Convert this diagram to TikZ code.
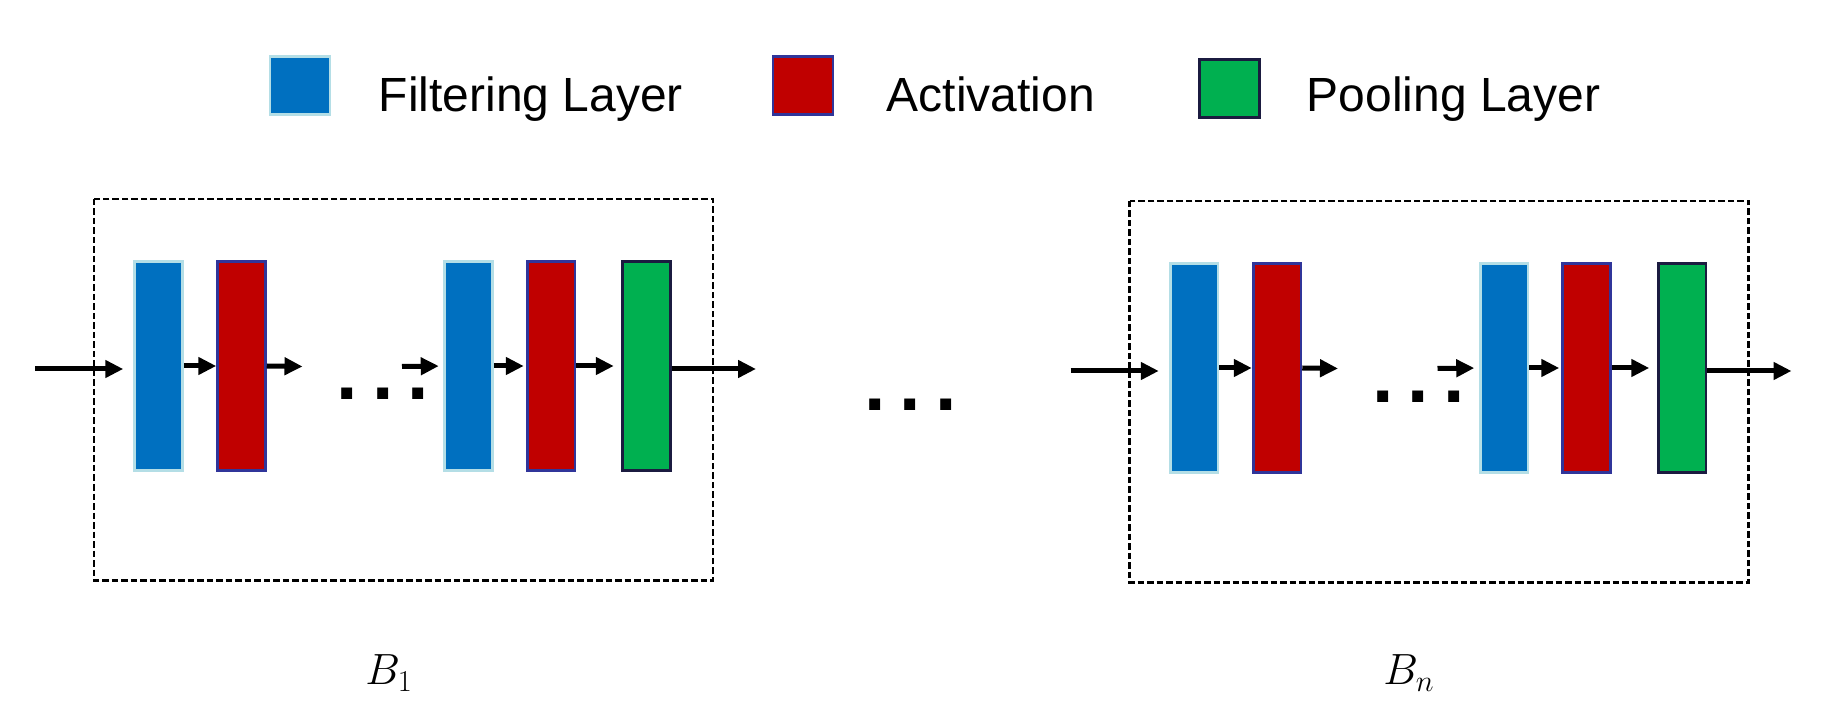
\documentclass[tikz,border=0pt]{standalone}
\usepackage{fontspec}
\setmainfont{Liberation Sans}
\usetikzlibrary{arrows.meta}

\definecolor{filtblue}{HTML}{0070C0}
\definecolor{filtedge}{HTML}{B4DEE6}
\definecolor{actred}{HTML}{C00000}
\definecolor{actedge}{HTML}{30359A}
\definecolor{poolgreen}{HTML}{00B050}
\definecolor{pooledge}{HTML}{1B1B40}

\tikzset{
    layer/.style={rectangle, inner sep=0pt, line width=0.055cm, minimum width=0.955cm, minimum height=4.18cm},
    filtbar/.style={layer, fill=filtblue, draw=filtedge},
    actbar/.style={layer, fill=actred, draw=actedge},
    poolbar/.style={layer, fill=poolgreen, draw=pooledge},
    legsq/.style={rectangle, inner sep=0pt, line width=0.055cm, minimum width=1.2cm, minimum height=1.16cm},
    legtext/.style={anchor=base west, inner sep=0pt, font=\fontsize{27.3}{33}\selectfont},
    flow/.style={-{Triangle[length=0.36cm,width=0.34cm]}, line width=0.1cm},
    blockbox/.style={draw, line width=0.045cm, dash pattern=on 0.13cm off 0.06cm},
    dotrow/.style={anchor=base, inner sep=0pt, font=\fontsize{43.8}{50}\selectfont\bfseries},
    blabel/.style={anchor=base, inner sep=0pt, font=\fontsize{26}{30}\selectfont},
}
\newcommand{\bigdots}{.\hspace{0.282cm}.\hspace{0.282cm}.}

\begin{document}
\begin{tikzpicture}
        \useasboundingbox (0,0) rectangle (36.62,-14.56);

        % legend
        \node[legsq, fill=filtblue, draw=filtedge] at (6.0,-1.71) (legf) {};
        \node[legtext] at (7.57,-2.23) (legftext) {Filtering Layer};
        \node[legsq, fill=actred, draw=actedge] at (16.06,-1.71) (lega) {};
        \node[legtext] at (17.73,-2.23) (legatext) {Activation};
        \node[legsq, fill=poolgreen, draw=pooledge] at (24.59,-1.77) (legp) {};
        \node[legtext] at (26.13,-2.23) (legptext) {Pooling Layer};

        % first block
        \draw[blockbox] (1.88,-3.98) rectangle (14.26,-11.61);
        \node[filtbar] at (3.17,-7.32) (fa) {};
        \node[actbar] at (4.83,-7.32) (aa) {};
        \node[filtbar] at (9.37,-7.32) (fb) {};
        \node[actbar] at (11.02,-7.32) (ab) {};
        \node[poolbar] at (12.93,-7.32) (pa) {};
        \coordinate (ina) at (0.70,-7.38);
        \coordinate (gapa) at (6.05,-7.33);
        \coordinate (gapb) at (8.04,-7.33);
        \coordinate (outa) at (15.12,-7.38);
        \draw[flow, shorten >=0.2cm] (ina) -- (ina -| fa.west);
        \draw[flow] (fa.east) -- (aa.west);
        \draw[flow] (aa.east) -- (gapa);
        \draw[flow, shorten >=0.09cm] (gapb) -- (fb.west);
        \draw[flow, shorten >=0.04cm] (fb.east) -- (ab.west);
        \draw[flow, shorten >=0.15cm] (ab.east) -- (pa.west);
        \draw[flow] (pa.east |- outa) -- (outa);
        \node[dotrow] at (7.66,-8.0) (dotsa) {\bigdots};
        \node[blabel] at (7.78,-13.7) (ba) {$B_1$};

        \node[dotrow] at (18.21,-8.21) (dotsmid) {\bigdots};

        % last block
        \draw[blockbox] (22.59,-4.02) rectangle (34.97,-11.65);
        \node[filtbar] at (23.88,-7.36) (fn) {};
        \node[actbar] at (25.54,-7.36) (an) {};
        \node[filtbar] at (30.08,-7.36) (fm) {};
        \node[actbar] at (31.73,-7.36) (am) {};
        \node[poolbar] at (33.64,-7.36) (pn) {};
        \coordinate (inn) at (21.41,-7.42);
        \coordinate (gapn) at (26.76,-7.37);
        \coordinate (gapm) at (28.75,-7.37);
        \coordinate (outn) at (35.83,-7.42);
        \draw[flow, shorten >=0.2cm] (inn) -- (inn -| fn.west);
        \draw[flow] (fn.east) -- (an.west);
        \draw[flow] (an.east) -- (gapn);
        \draw[flow, shorten >=0.09cm] (gapm) -- (fm.west);
        \draw[flow, shorten >=0.04cm] (fm.east) -- (am.west);
        \draw[flow, shorten >=0.15cm] (am.east) -- (pn.west);
        \draw[flow] (pn.east |- outn) -- (outn);
        \node[dotrow] at (28.37,-8.05) (dotsn) {\bigdots};
        \node[blabel] at (28.18,-13.7) (bn) {$B_n$};

\end{tikzpicture}
\end{document}
